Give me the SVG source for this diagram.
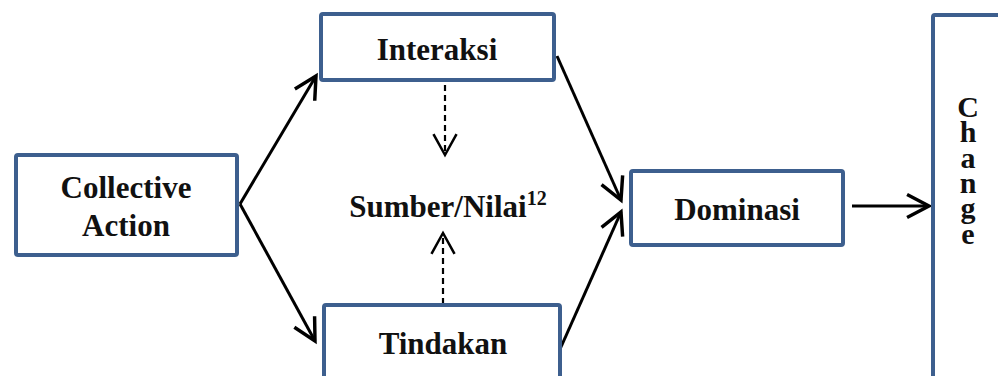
<svg xmlns="http://www.w3.org/2000/svg" width="998" height="376" viewBox="0 0 998 376">
<style>
.box{fill:#fff;stroke:#3d5f8e;stroke-width:4}
.t{font-family:"Liberation Serif","Times New Roman",serif;font-weight:bold;font-size:31px;fill:#111;text-anchor:middle}
.c{font-family:"Liberation Serif","Times New Roman",serif;font-weight:bold;font-size:30px;fill:#111;writing-mode:vertical-rl;text-orientation:upright;letter-spacing:-7.7px}
.a{stroke:#000;stroke-width:3;fill:none}
.d{stroke:#000;stroke-width:2.2;fill:none;stroke-dasharray:6,4}
</style>
<defs>
<marker id="ah" markerUnits="userSpaceOnUse" markerWidth="30" markerHeight="30" viewBox="-22 -12 26 24" refX="0" refY="0" orient="auto">
<path d="M-19,-10 L0,0 L-19,10" fill="none" stroke="#000" stroke-width="3"/>
</marker>
<marker id="dh" markerUnits="userSpaceOnUse" markerWidth="30" markerHeight="30" viewBox="-22 -12 26 24" refX="0" refY="0" orient="auto">
<path d="M-18,-10 L0,0 L-18,10" fill="none" stroke="#000" stroke-width="2.2"/>
</marker>
</defs>
<rect width="998" height="376" fill="#fff"/>
<g id="connectors">
<line class="a" x1="240" y1="204" x2="316" y2="76" marker-end="url(#ah)"/>
<line class="a" x1="240" y1="204" x2="315" y2="341" marker-end="url(#ah)"/>
<line class="a" x1="557" y1="56" x2="621" y2="200" marker-end="url(#ah)"/>
<line class="a" x1="557" y1="356" x2="621" y2="212" marker-end="url(#ah)"/>
<line class="a" x1="852" y1="206" x2="929" y2="206" marker-end="url(#ah)"/>
<line class="d" x1="445" y1="85" x2="445" y2="155" marker-end="url(#dh)"/>
<line class="d" x1="443" y1="304" x2="443" y2="233" marker-end="url(#dh)"/>
</g>
<g id="collective">
<rect class="box" x="16" y="155" width="221" height="100" rx="2"/>
<text class="t" x="126" y="198">Collective</text>
<text class="t" x="126" y="236">Action</text>
</g>
<g id="interaksi">
<rect class="box" x="321" y="14" width="233" height="66" rx="2"/>
<text class="t" x="437" y="60">Interaksi</text>
</g>
<g id="sumber">
<text class="t" x="448" y="217">Sumber/Nilai<tspan font-size="20" dy="-12">12</tspan></text>
</g>
<g id="tindakan">
<rect class="box" x="324" y="305" width="236" height="100" rx="2"/>
<text class="t" x="443" y="354">Tindakan</text>
</g>
<g id="dominasi">
<rect class="box" x="631" y="171" width="212" height="74" rx="2"/>
<text class="t" x="737" y="220">Dominasi</text>
</g>
<g id="change">
<rect class="box" x="933" y="15" width="90" height="400" rx="2"/>
<text class="c" x="968" y="90">Change</text>
</g>
</svg>
